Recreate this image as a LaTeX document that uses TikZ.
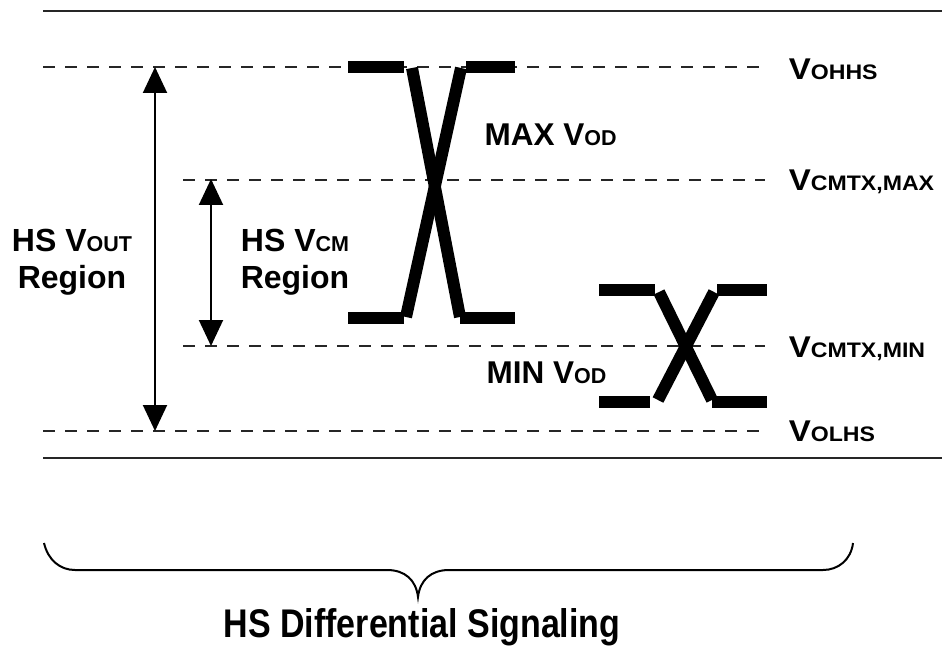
\documentclass[tikz,border=0pt]{standalone}
\usepackage{fontspec}
\setmainfont{Liberation Sans}
\usetikzlibrary{arrows.meta}
\tikzset{
  rule/.style={line width=2pt, black!85},
  level/.style={line width=2pt, dash pattern=on 12pt off 10pt, black!85},
  sig/.style={line width=12pt, line cap=butt},
  dimarrow/.style={line width=2pt, {Triangle[width=24pt,length=26pt]}-{Triangle[width=24pt,length=26pt]}},
  lvl/.style={anchor=base west, xscale=1.1, transform shape, font=\bfseries\fontsize{30}{32}\selectfont},
  big/.style={font=\bfseries\fontsize{32}{37}\selectfont, align=center},
  vod/.style={anchor=base west, font=\bfseries\fontsize{31.5}{34}\selectfont},
}
\newcommand{\sml}[1]{{\fontsize{21.5}{22}\selectfont #1}}
\newcommand{\smr}[1]{{\fontsize{21}{22}\selectfont #1}}
\begin{document}
\begin{tikzpicture}[x=1pt,y=-1pt]
\useasboundingbox (0,0) rectangle (942,647);
% solid rules
\draw[rule] (43,11) -- (942,11);
\draw[rule] (43,458) -- (942,458);
% dashed levels
\draw[level] (43,67) -- (765,67);
\draw[level] (183,180) -- (765,180);
\draw[level] (183,346) -- (765,346);
\draw[level] (43,431) -- (765,431);
% level labels
\node[lvl] (voh) at (785,80) {V\smr{OHHS}};
\node[lvl] (vcmax) at (785,191) {V\smr{CMTX,MAX}};
\node[lvl] (vcmin) at (785,357) {V\smr{CMTX,MIN}};
\node[lvl] (vol) at (785,441) {V\smr{OLHS}};
% dimension arrows
\coordinate (outtop) at (155,67);
\coordinate (outbot) at (155,431);
\coordinate (cmtop) at (211,179);
\coordinate (cmbot) at (211,346);
\draw[dimarrow] (outtop) -- (outbot);
\draw[dimarrow] (cmtop) -- (cmbot);
\node[big] (vout) at (72,262) {HS V\sml{OUT}\\Region};
\node[big] (vcm) at (295,262) {HS V\sml{CM}\\Region};
% large eye
\draw[sig] (348,67) -- (404,67);
\draw[sig] (466,67) -- (515,67);
\draw[sig] (348,318) -- (404,318);
\draw[sig] (460,318) -- (515,318);
\draw[sig] (412,68) -- (460,317);
\draw[sig] (461,68) -- (406,317);
\node[vod] (maxvod) at (481,146) {MAX V\sml{OD}};
% small eye
\draw[sig] (599,290) -- (655,290);
\draw[sig] (717,290) -- (767,290);
\draw[sig] (599,402) -- (650,402);
\draw[sig] (712,402) -- (767,402);
\draw[sig] (659,292) -- (712,400);
\draw[sig] (714,292) -- (658,400);
\node[vod] (minvod) at (483,383) {MIN V\sml{OD}};
% brace
\draw[line width=2pt] (44,543) .. controls (48,560) and (60,570) .. (75,570)
  -- (387,570) .. controls (405,570) and (416,580) .. (418,597)
  .. controls (420,580) and (431,570) .. (449,570)
  -- (823,570) .. controls (838,570) and (851,560) .. (853,543);
\node[font=\bfseries\fontsize{40}{41}\selectfont, xscale=0.85, transform shape, anchor=base] (title) at (422,637) {HS Differential Signaling};
\end{tikzpicture}
\end{document}
